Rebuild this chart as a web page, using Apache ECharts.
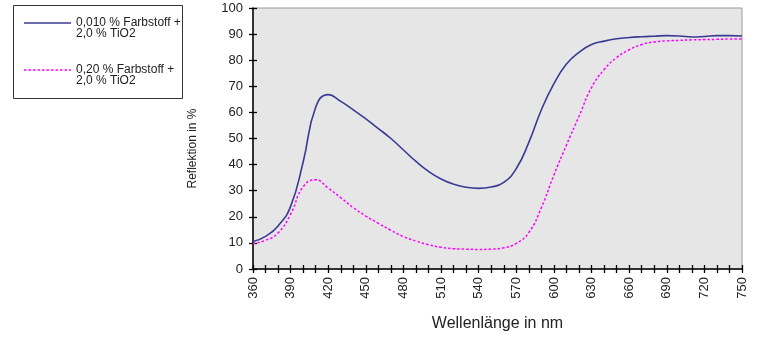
<!DOCTYPE html>
<html>
<head>
<meta charset="utf-8">
<script src="https://cdn.jsdelivr.net/npm/echarts@6/dist/echarts.min.js"></script>
<style>
html,body{margin:0;padding:0;background:#fff;}
#chart{width:768px;height:347px;}
</style>
</head>
<body>
<div id="chart"></div>
<script>
const wavelengths = [360,370,380,390,400,410,420,430,440,450,460,470,480,490,500,510,520,530,540,550,560,570,580,590,600,610,620,630,640,650,660,670,680,690,700,710,720,730,740,750];
const blueValues = [10.5,12.5,16.5,24,41,62,66.8,64.2,61,57.5,53.8,50,45.6,41.2,37.4,34.5,32.5,31.3,30.9,31.4,33.2,38.5,48.5,61,71,78.5,83,86,87.3,88.2,88.7,89.0,89.2,89.4,89.3,88.9,89.1,89.4,89.4,89.3];
const pinkValues = [9.7,11,13.8,21,31.5,34.2,31,27.3,23.5,20.3,17.5,14.8,12.4,10.7,9.3,8.3,7.8,7.6,7.5,7.6,8.1,9.8,14,23.5,36,47.5,58.5,69.5,76.4,81,84,86,87,87.4,87.6,87.8,87.9,88,88.1,88.1];
const seriesNames = ['0,010 % Farbstoff +', '0,20 % Farbstoff +'];
const seriesSubNames = ['2,0 % TiO2', '2,0 % TiO2'];
const xAxisTitle = 'Wellenlänge in nm';
const yAxisTitle = 'Reflektion in %';

const blueColor = '#3a3a94';
const pinkColor = '#ff00ff';
const font = 'Liberation Sans, Arial, sans-serif';

const chart = echarts.init(document.getElementById('chart'), null, {renderer:'canvas'});

const xCommon = {type:'value', min:360, max:750, interval:30, gridIndex:0};
const yCommon = {type:'value', min:0, max:100, interval:10, gridIndex:0};

chart.setOption({
  animation:false,
  backgroundColor:'#ffffff',
  grid:{left:253, right:26, top:8, bottom:78, show:true, backgroundColor:'#e6e6e6', borderColor:'#9a9a9a', borderWidth:1},
  xAxis:[
    Object.assign({}, xCommon, {
      name:xAxisTitle, nameLocation:'middle', nameGap:47,
      nameTextStyle:{fontFamily:font, fontSize:16, color:'#222'},
      axisLine:{show:true, onZero:false, lineStyle:{color:'#000', width:1.5}},
      axisTick:{show:true, inside:false, length:4, lineStyle:{color:'#000', width:1.3}},
      minorTick:{show:true, splitNumber:3, length:4, lineStyle:{color:'#000', width:1.3}},
      axisLabel:{rotate:90, margin:8, fontFamily:font, fontSize:13, color:'#222'},
      splitLine:{show:false}
    }),
    Object.assign({}, xCommon, {
      position:'bottom',
      axisLine:{show:false},
      axisTick:{show:true, inside:true, length:4, lineStyle:{color:'#000', width:1.3}},
      minorTick:{show:true, splitNumber:3, length:4, lineStyle:{color:'#000', width:1.3}},
      axisLabel:{show:false},
      splitLine:{show:false}
    })
  ],
  yAxis:[
    Object.assign({}, yCommon, {
      name:yAxisTitle, nameLocation:'middle', nameGap:54,
      nameTextStyle:{fontFamily:font, fontSize:12, color:'#222', padding:[0,20,0,0]},
      axisLine:{show:true, onZero:false, lineStyle:{color:'#000', width:1.5}},
      axisTick:{show:true, inside:false, length:4, lineStyle:{color:'#000', width:1.3}},
      axisLabel:{margin:10, fontFamily:font, fontSize:13, color:'#222'},
      splitLine:{show:false}
    }),
    Object.assign({}, yCommon, {
      position:'left',
      axisLine:{show:false},
      axisTick:{show:true, inside:true, length:4, lineStyle:{color:'#000', width:1.3}},
      axisLabel:{show:false},
      splitLine:{show:false}
    })
  ],
  series:[
    {
      name:seriesNames[0], type:'line', xAxisIndex:0, yAxisIndex:0,
      data:wavelengths.map((w,i)=>[w, blueValues[i]]),
      smooth:0.5, showSymbol:false, symbol:'none',
      lineStyle:{color:blueColor, width:1.6}, z:3
    },
    {
      name:seriesNames[1], type:'line', xAxisIndex:0, yAxisIndex:0,
      data:wavelengths.map((w,i)=>[w, pinkValues[i]]),
      smooth:0.5, showSymbol:false, symbol:'none',
      lineStyle:{color:pinkColor, width:1.5, type:[2.5,2]}, z:2
    }
  ],
  graphic:[
    {type:'rect', shape:{x:13.5, y:5.5, width:169, height:93}, style:{fill:'#fff', stroke:'#333', lineWidth:1}},
    {type:'line', shape:{x1:24, y1:23, x2:71, y2:23}, style:{stroke:blueColor, lineWidth:1.5}},
    {type:'text', x:76, y:17.5, style:{text:seriesNames[0]+'\n'+seriesSubNames[0], font:'12px '+font, fill:'#222', lineHeight:11}},
    {type:'line', shape:{x1:24, y1:70, x2:71, y2:70}, style:{stroke:pinkColor, lineWidth:1.3, lineDash:[2.5,2]}},
    {type:'text', x:76, y:64.5, style:{text:seriesNames[1]+'\n'+seriesSubNames[1], font:'12px '+font, fill:'#222', lineHeight:11}}
  ]
});
</script>
</body>
</html>
